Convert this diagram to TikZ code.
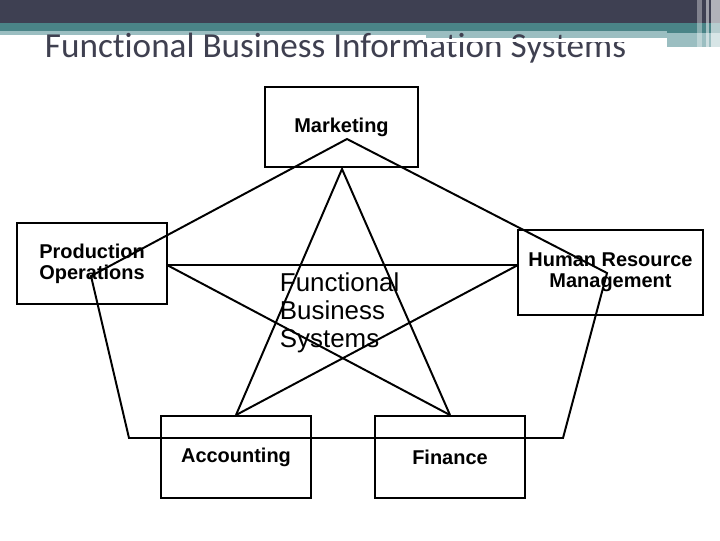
\documentclass[tikz,border=0pt]{standalone}
\usepackage{fontspec}
\setmainfont{Liberation Sans}
\newfontfamily\titlefont[Ligatures={NoCommon,NoRare}]{Carlito}
\usepackage{xcolor}
\usetikzlibrary{positioning}
\definecolor{barDark}{HTML}{3E4052}
\definecolor{barTeal}{HTML}{4A8487}
\definecolor{barLight}{HTML}{9BBEC1}
\definecolor{titleGray}{HTML}{3F4050}
\def\px{0.025cm}
\def\lw{1.4pt}
\def\boxW{150*\px}
\def\boxH{81*\px}
\newcommand{\labelfont}{\fontsize{14.2}{14.9}\selectfont\bfseries}

\begin{document}
\begin{tikzpicture}[
    x=\px, y=-\px,
    line width=\lw,
    funcbox/.style={draw, line width=\lw, minimum width=\boxW, minimum height=\boxH,
        align=center, inner sep=0pt, font=\labelfont},
    link/.style={line width=\lw}
]
\useasboundingbox (0,0) rectangle (720,540);

% header bars
\fill[barDark] (0,0) rectangle (720,23);
\fill[barTeal] (0,23) rectangle (720,31);
\fill[barLight] (0,31) rectangle (426,35);
\fill[barLight] (426,31) rectangle (667,38);
\fill[barTeal] (667,31) rectangle (720,33);
\fill[barLight] (667,33) rectangle (720,47);
\fill[white, opacity=0.35] (697,0) rectangle (702,47);
\fill[white, opacity=0.5] (706,0) rectangle (709,47);
\fill[white, opacity=0.6] (711,0) rectangle (720,47);

% title
\node[anchor=base west, inner sep=0pt, text=titleGray,
      font=\titlefont\fontsize{25}{29}\selectfont] (title) at (44,57)
      {Functional Business Informat\kern0pt ion Systems};
\draw[white, line width=1.6pt] (423,40.5) -- (667,40.5);

% boxes
\node[funcbox, minimum width=153*\px, minimum height=80*\px] (mkt) at (341.5,127) {Marketing};
\node[funcbox] (prod) at (92,263.5) {Production\\Operations};
\node[funcbox, minimum width=185*\px, minimum height=85*\px] (hrm) at (610.5,272.5) {Human Resource\\Management};
\node[funcbox, minimum height=82*\px] (acc) at (236,457) {Accounting};
\node[funcbox, minimum height=82*\px] (fin) at (450,457) {Finance};

% centre text
\node[anchor=west, align=left, inner sep=0pt,
      font=\fontsize{18.4}{19.8}\selectfont] (core) at (279,313)
      {Functional\\Business\\Systems};

% pentagon corners
\coordinate (pM) at (347,139);
\coordinate (pHR) at (607,273);
\coordinate (pBR) at (563,438);
\coordinate (pBL) at (129,438);
\coordinate (pPO) at (91,276);

% star points
\coordinate (sM) at (342,169);
\coordinate (sPO) at (167,265);
\coordinate (sHR) at (518,265);

\draw[link] (pM) -- (pHR) -- (pBR) -- (pBL) -- (pPO) -- cycle;

\draw[link] (acc.north) -- (sM) -- (fin.north);
\draw[link] (sPO) -- (sHR);
\draw[link] (sPO) -- (fin.north);
\draw[link] (sHR) -- (acc.north);
\end{tikzpicture}
\end{document}
